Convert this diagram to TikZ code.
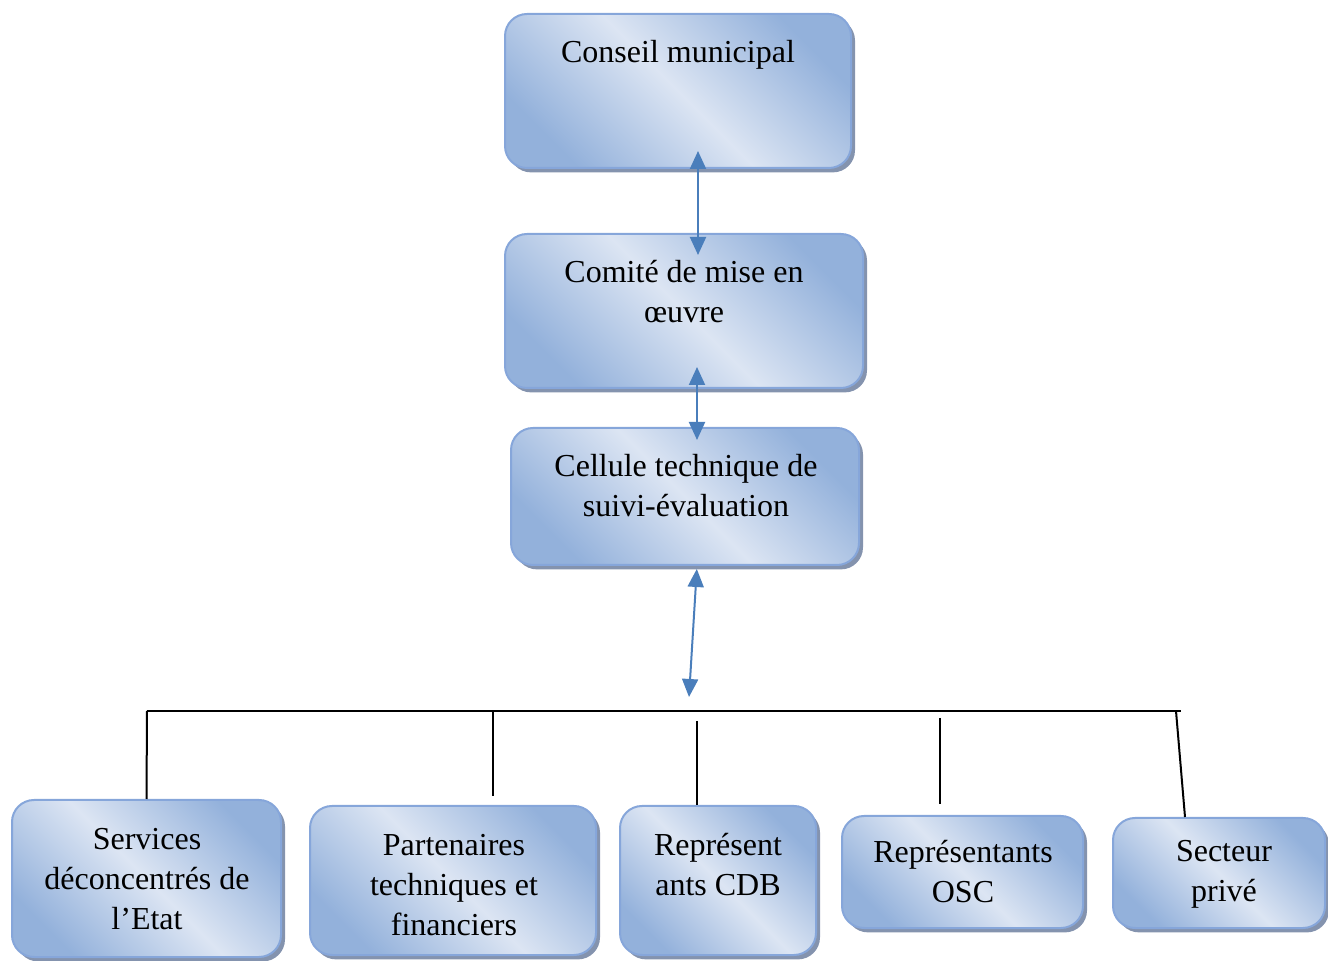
\documentclass[tikz,border=0pt]{standalone}
\usepackage{fontspec}
\setmainfont{Liberation Serif}
\usetikzlibrary{arrows.meta,shadows,fit}
\definecolor{boxdark}{HTML}{93B1DB}
\definecolor{boxlight}{HTML}{DCE5F3}
\definecolor{boxline}{HTML}{86A6DA}
\definecolor{boxshadow}{HTML}{8493AE}
\definecolor{arrowblue}{HTML}{4A7EBB}
\begin{document}
\begin{tikzpicture}[x=0.5pt, y=-0.5pt,
    box/.style={draw=boxline, line width=1pt, rounded corners=11pt, inner sep=0pt,
        top color=boxdark, bottom color=boxdark, middle color=boxlight, shading angle=-45,
        drop shadow={shadow xshift=2pt, shadow yshift=-2.2pt, fill=boxshadow, opacity=1}},
    txt/.style={align=center, inner sep=0pt, font=\fontsize{16}{20}\selectfont},
    link/.style={line width=1pt, draw=black},
    biarrow/.style={line width=1pt, draw=arrowblue, {Triangle[width=8pt,length=9pt,fill=arrowblue]}-{Triangle[width=8pt,length=9pt,fill=arrowblue]}}]
    \useasboundingbox (0,0) rectangle (1328,961);
    % boxes
    \node[box, fit={(505,14) (851,168)}] (conseil) {};
    \node[box, fit={(505,234) (863,388)}] (comite) {};
    \node[box, fit={(511,428) (859,565)}] (cellule) {};
    \node[box, fit={(12,800) (281,957)}] (services) {};
    \node[box, fit={(310,806) (596,955)}] (partenaires) {};
    \node[box, fit={(620,806) (816,955)}] (cdb) {};
    \node[box, fit={(842,816) (1083,928)}] (osc) {};
    \node[box, fit={(1113,818) (1325,928)}] (secteur) {};
    % texts
    \node[txt] (conseil-t) at (678,55) {Conseil municipal};
    \node[txt] (comite-t) at (684,292) {Comité de mise en\\œuvre};
    \node[txt] (cellule-t) at (686,486) {Cellule technique de\\suivi-évaluation};
    \node[txt] (services-t) at (147,879) {Services\\déconcentrés de\\l’Etat};
    \node[txt] (partenaires-t) at (454,885) {Partenaires\\techniques et\\financiers};
    \node[txt] (cdb-t) at (718,865) {Représent\\ants CDB};
    \node[txt] (osc-t) at (963,872) {Représentants\\OSC};
    \node[txt] (secteur-t) at (1224,874) {Secteur\\privé};
    % bar
    \coordinate (hub) at (689,697);
    \coordinate (barL) at (147,711);
    \coordinate (barR) at (1181,711);
    \coordinate (d2) at (493,711);
    \coordinate (d3) at (697,711);
    \coordinate (d4) at (940,711);
    \coordinate (d5) at (1176,711);
    % arrows
    \draw[biarrow, shorten <=-9pt, shorten >=-11pt] ([xshift=10pt]conseil.south) -- ([xshift=7pt]comite.north);
    \draw[biarrow, shorten <=-11pt, shorten >=-6.5pt] ([xshift=6.5pt]comite.south) -- ([xshift=6pt]cellule.north);
    \draw[biarrow, shorten <=1.5pt] ([xshift=6pt]cellule.south) -- (hub);
    % lines
    \draw[link] (barL) -- (barR);
    \draw[link] (barL) -- (services.north);
    \draw[link, shorten >=4.5pt] (d2) -- (d2 |- partenaires.north);
    \draw[link, shorten <=5pt] (d3) -- (d3 |- cdb.north);
    \draw[link, shorten <=3.5pt, shorten >=5.5pt] (d4) -- (d4 |- osc.north);
    \draw[link] (d5) -- ([xshift=-17pt]secteur.north);
\end{tikzpicture}
\end{document}
